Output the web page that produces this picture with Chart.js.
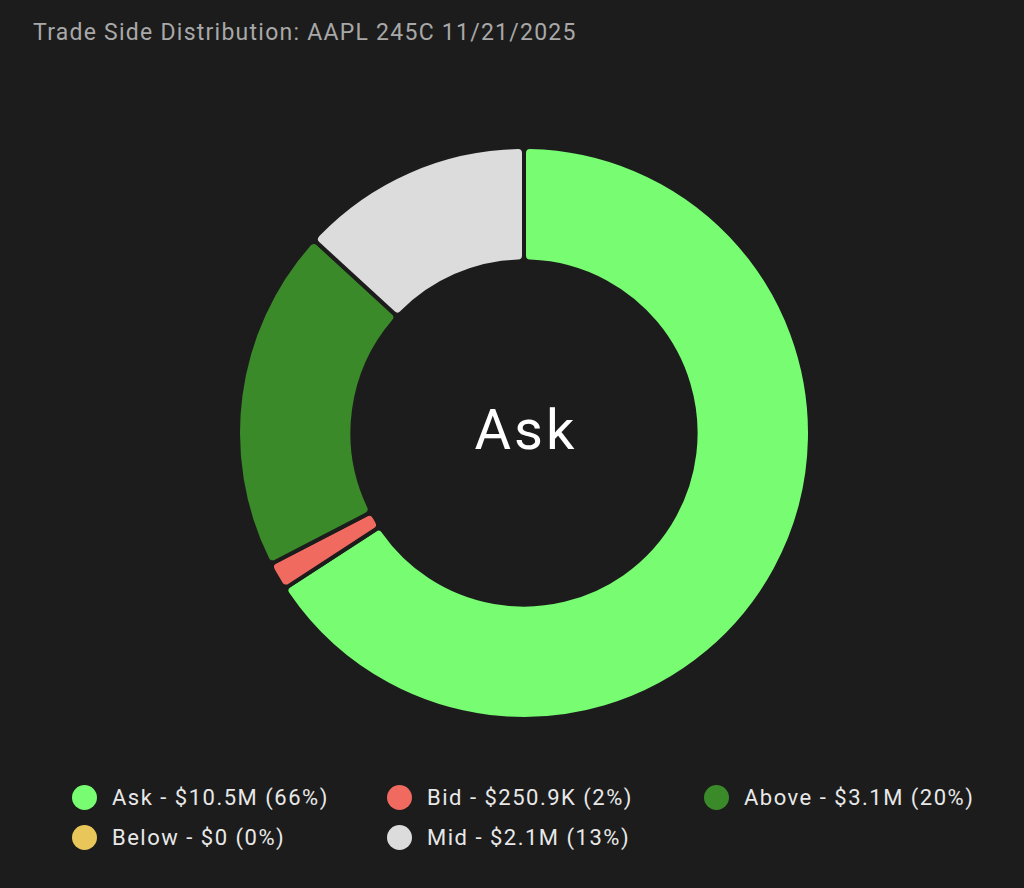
<!DOCTYPE html>
<html><head><meta charset="utf-8">
<script src="https://cdn.jsdelivr.net/npm/chart.js@4"></script>
<style>
html,body{margin:0;padding:0;background:#1c1c1c;width:1024px;height:888px;overflow:hidden;font-family:Roboto,"Noto Sans",sans-serif}
#title{position:absolute;left:33px;top:19px;color:#a8a8a8;font-size:23px;letter-spacing:1.25px}
#wrap{position:absolute;left:236px;top:145px;width:576px;height:576px}
#legend{position:absolute;left:72px;top:785px;display:grid;grid-template-columns:315px 317px 300px;row-gap:16px;color:#e8e8e8;font-size:22px;letter-spacing:1.5px}
.it{display:flex;align-items:center;height:24px}
.dot{width:25px;height:25px;border-radius:50%;margin-right:15px}
</style></head><body>
<div id="title">Trade Side Distribution: AAPL 245C 11/21/2025</div>
<div id="wrap"><canvas id="c"></canvas></div>
<div id="legend"></div>
<script>
const labels=["Ask","Bid","Above","Below","Mid"];
const values=[10.5,0.2509,3.1,0,2.1];
const valueText=["$10.5M","$250.9K","$3.1M","$0","$2.1M"];
const pctText=["66%","2%","20%","0%","13%"];
const colors=["#77fc72","#f06a60","#3a8a2a","#e8c65a","#dcdcdc"];
const centerLabel="Ask";
const lg=document.getElementById('legend');
labels.forEach((l,i)=>{const d=document.createElement('div');d.className='it';
d.innerHTML='<span class="dot" style="background:'+colors[i]+'"></span>'+l+' - '+valueText[i]+' ('+pctText[i]+')';lg.appendChild(d);});
const centerText={id:'ct',afterDraw(ch){const c=ch.ctx,a=ch.chartArea;c.save();c.fillStyle='#ffffff';c.font='56px Roboto';c.letterSpacing='3px';c.textAlign='center';c.textBaseline='middle';c.fillText(centerLabel,(a.left+a.right)/2+2,(a.top+a.bottom)/2+2);c.restore();}};
new Chart(document.getElementById('c'),{type:'doughnut',
data:{labels,datasets:[{data:values,backgroundColor:colors,borderColor:'#1c1c1c',borderWidth:4,borderRadius:6}]},
options:{responsive:true,maintainAspectRatio:false,animation:false,cutout:'60%',layout:{padding:0},
plugins:{legend:{display:false},tooltip:{enabled:false}}},plugins:[centerText]});
</script></body></html>
